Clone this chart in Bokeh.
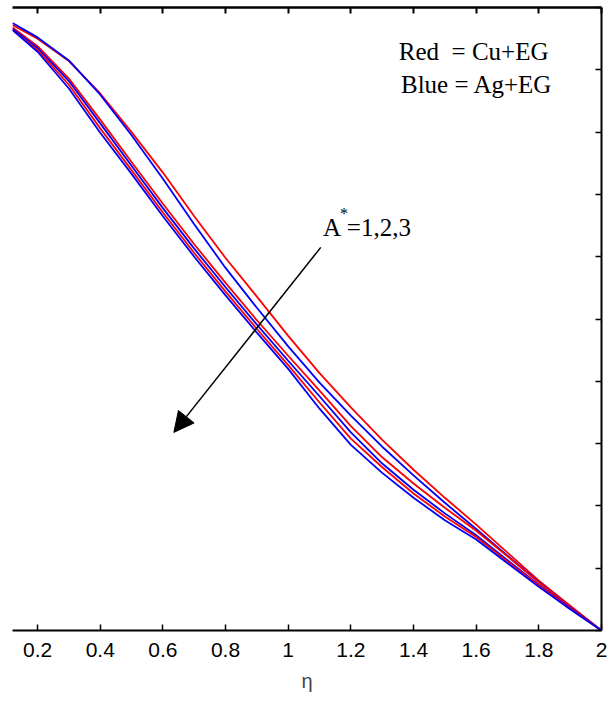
from bokeh.plotting import figure
from bokeh.models import Range1d, LinearAxis, FixedTicker, Label, Arrow, NormalHead
from bokeh.embed import file_html
from bokeh.resources import INLINE

# ---------------- data ----------------
eta = [0.12, 0.2, 0.3, 0.4, 0.5, 0.6, 0.7, 0.8, 0.9, 1.0,
       1.1, 1.2, 1.3, 1.4, 1.5, 1.6, 1.7, 1.8, 1.9, 2.0]

cu_A1 = [0.972, 0.950, 0.914, 0.862, 0.800, 0.735, 0.665, 0.598, 0.536, 0.473,
         0.413, 0.358, 0.306, 0.258, 0.213, 0.170, 0.125, 0.080, 0.040, 0.0]
ag_A1 = [0.975, 0.952, 0.915, 0.860, 0.795, 0.725, 0.652, 0.582, 0.518, 0.456,
         0.398, 0.345, 0.295, 0.249, 0.205, 0.163, 0.120, 0.078, 0.038, 0.0]
cu_A2 = [0.968, 0.938, 0.886, 0.820, 0.752, 0.685, 0.620, 0.558, 0.498, 0.441,
         0.385, 0.328, 0.278, 0.236, 0.197, 0.160, 0.119, 0.077, 0.038, 0.0]
ag_A2 = [0.966, 0.935, 0.882, 0.814, 0.746, 0.678, 0.613, 0.551, 0.491, 0.433,
         0.376, 0.318, 0.268, 0.226, 0.188, 0.153, 0.113, 0.073, 0.036, 0.0]
cu_A3 = [0.964, 0.932, 0.876, 0.806, 0.739, 0.671, 0.606, 0.544, 0.484, 0.426,
         0.366, 0.308, 0.262, 0.220, 0.183, 0.150, 0.111, 0.072, 0.035, 0.0]
ag_A3 = [0.964, 0.929, 0.870, 0.799, 0.733, 0.665, 0.600, 0.538, 0.478, 0.420,
         0.356, 0.298, 0.253, 0.213, 0.177, 0.146, 0.108, 0.070, 0.034, 0.0]

x_ticks = [0.2, 0.4, 0.6, 0.8, 1.0, 1.2, 1.4, 1.6, 1.8, 2.0]
x_tick_labels = ["0.2", "0.4", "0.6", "0.8", "1", "1.2", "1.4", "1.6", "1.8", "2"]
y_ticks = [0.0, 0.1, 0.2, 0.3, 0.4, 0.5, 0.6, 0.7, 0.8, 0.9, 1.0]

RED = "#ff0000"
BLUE = "#0000ff"

p = figure(width=612, height=705, output_backend="svg", toolbar_location=None,
           x_range=Range1d(0.12, 2.0), y_range=Range1d(0.0, 1.0),
           x_axis_location=None, y_axis_location=None,
           min_border_left=12, min_border_right=11,
           min_border_top=7, min_border_bottom=75)
p.grid.visible = False
p.outline_line_color = None
p.background_fill_color = "white"
p.border_fill_color = "white"

def style_axis(ax, show_labels):
    ax.axis_line_width = 2
    ax.axis_line_color = "black"
    ax.major_tick_in = 6
    ax.major_tick_out = 0
    ax.major_tick_line_width = 1.5
    ax.major_tick_line_color = "black"
    ax.minor_tick_in = 0
    ax.minor_tick_out = 0
    if not show_labels:
        ax.major_label_text_font_size = "1px"
        ax.major_label_text_color = None
        ax.major_label_standoff = 0

bottom = LinearAxis(ticker=FixedTicker(ticks=x_ticks),
                    major_label_overrides=dict(zip(x_ticks, x_tick_labels)),
                    axis_label="η")
style_axis(bottom, True)
bottom.major_label_text_font = "Liberation Sans"
bottom.major_label_text_font_size = "21px"
bottom.major_label_text_color = "black"
bottom.major_label_standoff = 12
bottom.axis_label_text_font = "Liberation Sans"
bottom.axis_label_text_font_style = "normal"
bottom.axis_label_text_font_size = "20px"
bottom.axis_label_standoff = 10
p.add_layout(bottom, "below")

top = LinearAxis(ticker=FixedTicker(ticks=x_ticks))
style_axis(top, False)
top.axis_line_width = 2.5
top.major_tick_line_width = 2
p.add_layout(top, "above")

right = LinearAxis(ticker=FixedTicker(ticks=y_ticks))
style_axis(right, False)
p.add_layout(right, "right")

for ys, col in [(cu_A1, RED), (ag_A1, BLUE), (cu_A2, RED),
                (ag_A2, BLUE), (cu_A3, RED), (ag_A3, BLUE)]:
    p.line(eta, ys, line_color=col, line_width=1.8)

serif = "Liberation Serif"
p.add_layout(Label(x=1.353, y=0.9085, text="Red\u00a0 = Cu+EG", text_font=serif,
                   text_font_size="25px", text_color="black"))
p.add_layout(Label(x=1.36, y=0.8555, text="Blue = Ag+EG", text_font=serif,
                   text_font_size="25px", text_color="black"))
p.add_layout(Label(x=1.111, y=0.626, text="A", text_font=serif,
                   text_font_size="25px", text_color="black"))
p.add_layout(Label(x=1.165, y=0.655, text="*", text_font=serif,
                   text_font_size="16px", text_color="black"))
p.add_layout(Label(x=1.187, y=0.626, text="=1,2,3", text_font=serif,
                   text_font_size="25px", text_color="black"))

p.add_layout(Arrow(end=NormalHead(size=20, fill_color="black", line_color="black"),
                   x_start=1.104, y_start=0.615, x_end=0.635, y_end=0.318,
                   line_width=1.5, line_color="black"))

open("out.html", "w").write(file_html(p, INLINE))
